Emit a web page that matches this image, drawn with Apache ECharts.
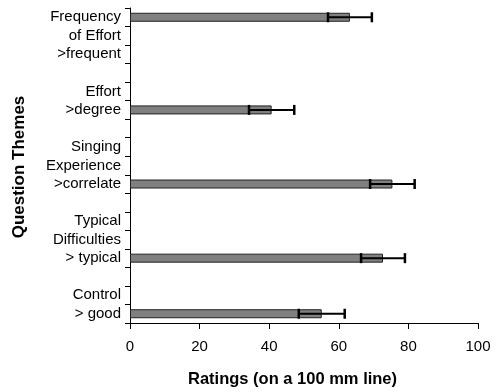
<!DOCTYPE html>
<html>
<head>
<meta charset="utf-8">
<script src="https://cdn.jsdelivr.net/npm/echarts@6/dist/echarts.min.js"></script>
<style>html,body{margin:0;padding:0;background:#fff}#c{width:503px;height:392px}</style>
</head>
<body>
<div id="c"></div>
<script>
var categories = ["Frequency", "of Effort", ">frequent", "", "Effort", ">degree", "", "Singing", "Experience", ">correlate", "", "Typical", "Difficulties", "> typical", "", "Control", "> good"];
var means = [63.2, null, null, null, null, 40.7, null, null, null, 75.4, null, null, null, 72.7, null, null, 55.1];
var errors = [6.3, null, null, null, null, 6.5, null, null, null, 6.4, null, null, null, 6.3, null, null, 6.6];
var xTicks = [0, 20, 40, 60, 80, 100];

var chart = echarts.init(document.getElementById('c'), null, {renderer: 'canvas'});
var font = 'Liberation Sans, Arial, sans-serif';
var errData = [];
for (var i = 0; i < categories.length; i++) {
  if (means[i] != null) errData.push([i, means[i], errors[i]]);
}
chart.setOption({
  animation: false,
  grid: {left: 130, right: 25, top: 8, bottom: 69},
  xAxis: {
    type: 'value', min: xTicks[0], max: xTicks[xTicks.length - 1], interval: 20,
    axisLine: {show: true, lineStyle: {color: '#000', width: 1}},
    axisTick: {show: true, length: 6, lineStyle: {color: '#000'}},
    splitLine: {show: false},
    axisLabel: {color: '#000', fontFamily: font, fontSize: 15, margin: 16}
  },
  yAxis: {
    type: 'category', data: categories, inverse: true,
    axisLine: {show: true, lineStyle: {color: '#000', width: 1}},
    axisTick: {show: true, length: 5, lineStyle: {color: '#000'}},
    axisLabel: {color: '#000', fontFamily: font, fontSize: 15, margin: 9, interval: 0}
  },
  graphic: [
    {type: 'text', left: 188, top: 371, style: {text: 'Ratings (on a 100 mm line)', font: 'bold 16.5px ' + font, fill: '#000'}},
    {type: 'text', x: 19, y: 167, rotation: Math.PI / 2, style: {text: 'Question Themes', font: 'bold 17px ' + font, fill: '#000', align: 'center', verticalAlign: 'middle'}}
  ],
  series: [
    {
      type: 'bar', data: means, barWidth: 9,
      itemStyle: {color: '#808080', borderColor: '#222', borderWidth: 1}
    },
    {
      type: 'custom', data: errData,
      encode: {x: 1, y: 0},
      renderItem: function (params, api) {
        var c = api.value(0), m = api.value(1), e = api.value(2);
        var lo = api.coord([m - e, c]);
        var hi = api.coord([m + e, c]);
        var h = 5;
        var st = {stroke: '#000', lineWidth: 2};
        return {type: 'group', children: [
          {type: 'line', shape: {x1: lo[0], y1: lo[1], x2: hi[0], y2: hi[1]}, style: st},
          {type: 'line', shape: {x1: lo[0], y1: lo[1] - h, x2: lo[0], y2: lo[1] + h}, style: {stroke: '#000', lineWidth: 2.5}},
          {type: 'line', shape: {x1: hi[0], y1: hi[1] - h, x2: hi[0], y2: hi[1] + h}, style: {stroke: '#000', lineWidth: 2.5}}
        ]};
      },
      z: 5
    }
  ]
});
</script>
</body>
</html>
